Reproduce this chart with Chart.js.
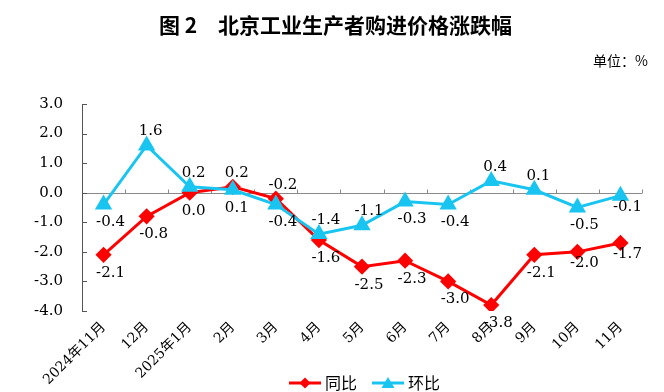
<!DOCTYPE html>
<html><head><meta charset="utf-8">
<script src="https://cdn.jsdelivr.net/npm/chart.js@4.4.0/dist/chart.umd.min.js"></script>
<style>html,body{margin:0;padding:0;background:#fff;}</style>
</head><body>
<canvas id="c" width="664" height="392"></canvas>
<script>
const categories = ['2024年11月','12月','2025年1月','2月','3月','4月','5月','6月','7月','8月','9月','10月','11月'];
const yoy = [-2.1,-0.8,0.0,0.2,-0.2,-1.6,-2.5,-2.3,-3.0,-3.8,-2.1,-2.0,-1.7];
const mom = [-0.4,1.6,0.2,0.1,-0.4,-1.4,-1.1,-0.3,-0.4,0.4,0.1,-0.5,-0.1];
const seriesNames = ['同比','环比'];
const yTicks = [3,2,1,0,-1,-2,-3,-4];
const titleText = '图 2　北京工业生产者购进价格涨跌幅';
const unitText = '单位：%';
// label placement: a = above, b = below, n = just below
const yoySide = ['b','b','b','a','a','b','b','b','b','b','b','n','n'];
const momSide = ['b','a','a','b','b','a','a','b','b','a','a','b','n'];

const RED = '#FF0000', CYAN = '#19C5F0';
const NUMFONT = '"DejaVu Serif", "Noto Sans CJK SC", serif';

function icon(color, kind) {
  const c = document.createElement('canvas'); c.width = 32; c.height = 14;
  const g = c.getContext('2d');
  g.strokeStyle = color; g.lineWidth = 3;
  g.beginPath(); g.moveTo(0, 7); g.lineTo(32, 7); g.stroke();
  g.fillStyle = color; g.beginPath();
  if (kind === 'diamond') { g.moveTo(16, 1.5); g.lineTo(21.5, 7); g.lineTo(16, 12.5); g.lineTo(10.5, 7); }
  else { g.moveTo(16, 1); g.lineTo(22.5, 12); g.lineTo(9.5, 12); }
  g.closePath(); g.fill();
  return c;
}
const icons = [icon(RED, 'diamond'), icon(CYAN, 'triangle')];

const decor = {
  id: 'decor',
  beforeDatasetsDraw(chart) {
    const { ctx, chartArea: a, scales: { x, y } } = chart;
    ctx.save();
    const y0 = Math.round(y.getPixelForValue(0)) + 0.5;
    ctx.strokeStyle = '#8a8a8a'; ctx.lineWidth = 1;
    ctx.beginPath();
    ctx.moveTo(a.left, y0); ctx.lineTo(a.right, y0);
    for (let i = 1; i <= categories.length; i++) {
      const px = Math.round(x.getPixelForValue(i - 0.5)) + 0.5;
      ctx.moveTo(px, y0); ctx.lineTo(px, y0 - 4);
    }
    ctx.stroke();
    ctx.strokeStyle = '#555'; ctx.beginPath();
    yTicks.forEach(v => {
      const py = Math.round(y.getPixelForValue(v)) + 0.5;
      ctx.moveTo(a.left, py); ctx.lineTo(a.left + 5, py);
    });
    ctx.stroke();
    ctx.restore();
  },
  afterDatasetsDraw(chart) {
    const { ctx } = chart;
    const sides = [yoySide, momSide];
    ctx.save();
    ctx.font = '15px ' + NUMFONT;
    ctx.fillStyle = '#000';
    ctx.textAlign = 'center';
    ctx.textBaseline = 'middle';
    chart.data.datasets.forEach((ds, i) => {
      const meta = chart.getDatasetMeta(i);
      meta.data.forEach((pt, j) => {
        const v = ds.data[j];
        const s = sides[i][j];
        const dy = s === 'a' ? -14 : (s === 'b' ? 18 : 11);
        const dx = v < 0 ? 7 : 4;
        ctx.fillText(v.toFixed(1), pt.x + dx, pt.y + dy);
      });
    });
    ctx.restore();
  }
};

const shifter = {
  id: 'shifter',
  afterLayout(chart) {
    const L = chart.legend;
    L.left += 45.5; L.right += 45.5; L.top += 9; L.bottom += 9;
    const t = chart.titleBlock;
    if (t) { t.left += 14.5; t.right += 14.5; }
    chart.boxes.forEach(b => {
      if (b !== t && b.options && b.options.text === unitText) { b.left += 6; b.right += 6; }
    });
    // let rotated x labels extend below the axis box (avoid clipping)
    chart.scales.x.bottom = chart.height;
  }
};

new Chart(document.getElementById('c'), {
  type: 'line',
  data: {
    labels: categories,
    datasets: [
      { label: seriesNames[0], data: yoy, borderColor: RED, backgroundColor: RED, borderWidth: 3,
        pointStyle: 'rectRot', pointRadius: 6, pointHoverRadius: 6, tension: 0, order: 2 },
      { label: seriesNames[1], data: mom, borderColor: CYAN, backgroundColor: CYAN, borderWidth: 3,
        pointStyle: 'triangle', pointRadius: 7, pointHoverRadius: 7, tension: 0, order: 1 }
    ]
  },
  options: {
    responsive: false,
    devicePixelRatio: 1,
    animation: false,
    layout: { padding: { left: 0, right: 22, top: 0, bottom: 0 } },
    plugins: {
      tooltip: { enabled: false },
      title: {
        display: true, text: titleText, color: '#000',
        font: { family: '"Noto Sans CJK SC", sans-serif', size: 21, weight: 'bold', lineHeight: 1.2 },
        padding: { top: 12, bottom: 0 }
      },
      subtitle: {
        display: true, text: unitText, color: '#000', align: 'end',
        font: { family: '"Noto Sans CJK SC", sans-serif', size: 14, lineHeight: 1.2 },
        padding: { top: 15.4, bottom: 34.6 }
      },
      legend: {
        position: 'bottom',
        labels: {
          usePointStyle: true, pointStyleWidth: 24, padding: 19, color: '#000',
          font: { family: '"Noto Sans CJK SC", sans-serif', size: 16 },
          generateLabels(chart) {
            return chart.data.datasets.map((ds, i) => ({
              text: ds.label, pointStyle: icons[i], fillStyle: ds.borderColor,
              strokeStyle: ds.borderColor, lineWidth: 0, hidden: false, datasetIndex: i, fontColor: '#000'
            }));
          }
        }
      }
    },
    scales: {
      x: {
        offset: true,
        grid: { display: false, drawTicks: false },
        border: { display: false },
        ticks: {
          minRotation: 45, maxRotation: 45, padding: 8, color: '#000', autoSkip: false,
          font: { family: NUMFONT, size: 14 }
        },
        afterFit(s) { s.height = 36; }
      },
      y: {
        min: -4, max: 3,
        grid: { display: false, drawTicks: false },
        border: { display: true, color: '#555', width: 1 },
        ticks: {
          stepSize: 1, padding: 19, color: '#000',
          font: { family: NUMFONT, size: 15 },
          callback: v => Number(v).toFixed(1)
        },
        afterFit(s) { s.width = 82; }
      }
    }
  },
  plugins: [decor, shifter]
});
</script>
</body></html>
